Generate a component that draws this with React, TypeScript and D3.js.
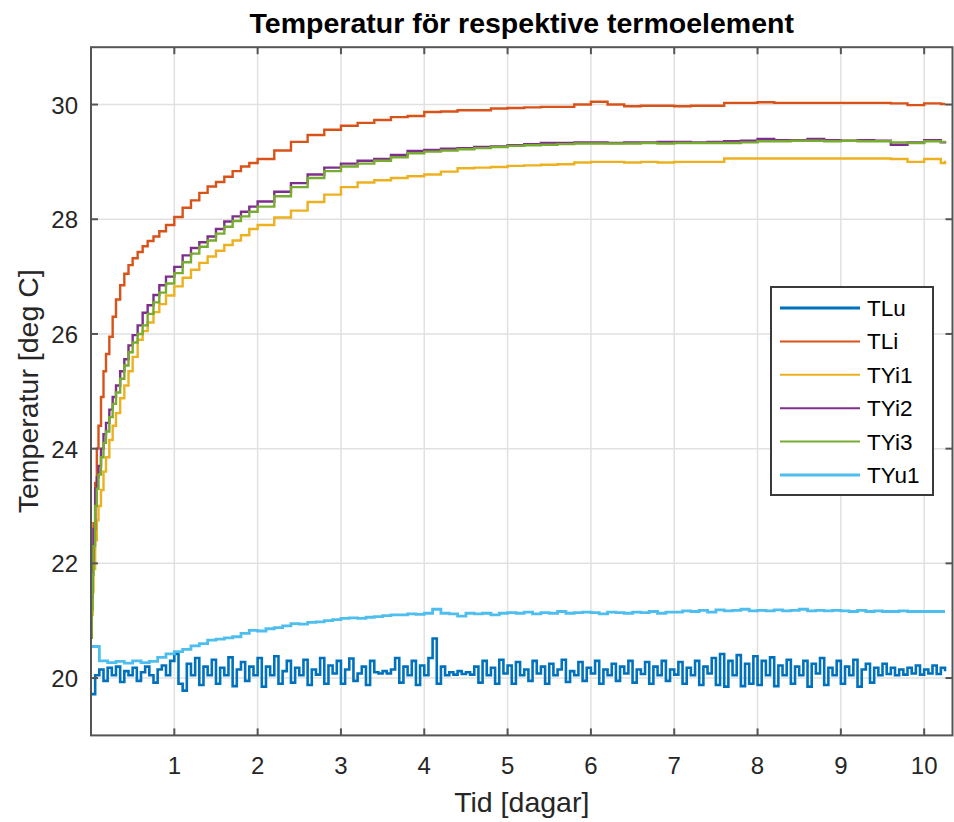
import { useRef, useEffect } from "react";
import * as d3 from "d3";

const seriesNames = ["TLu", "TLi", "TYi1", "TYi2", "TYi3", "TYu1"];
const seriesColors = ["#0072BD", "#D95319", "#EDB120", "#7E2F8E", "#77AC30", "#4DBEEE"];

// time grid (days) for the four rising sensors
const riseDays = [
  0, 0.01, 0.02, 0.03, 0.05, 0.07, 0.09, 0.12, 0.15, 0.18,
  0.22, 0.26, 0.3, 0.35, 0.4, 0.45, 0.5, 0.56, 0.62, 0.68,
  0.75, 0.82, 0.9, 1.0, 1.1, 1.2, 1.3, 1.4, 1.5, 1.6,
  1.7, 1.8, 1.9, 2.0, 2.2, 2.4, 2.6, 2.8, 3.0, 3.2,
  3.4, 3.6, 3.8, 4.0, 4.2, 4.4, 4.6, 4.8, 5.0, 5.2,
  5.4, 5.6, 5.8, 6.0, 6.2, 6.4, 6.6, 6.8, 7.0, 7.2,
  7.4, 7.6, 7.8, 8.0, 8.2, 8.4, 8.6, 8.8, 9.0, 9.2,
  9.4, 9.6, 9.8, 10.0, 10.2, 10.25,
];

const tliValues = [
  20.7, 21.7, 22.3, 22.7, 23.4, 24.0, 24.4, 24.9, 25.35, 25.65,
  25.95, 26.3, 26.6, 26.85, 27.05, 27.2, 27.32, 27.43, 27.53, 27.62,
  27.7, 27.79, 27.9, 28.04, 28.2, 28.33, 28.46, 28.57, 28.65, 28.74,
  28.84, 28.92, 28.98, 29.05, 29.2, 29.35, 29.47, 29.56, 29.63, 29.68,
  29.73, 29.78, 29.8, 29.87, 29.88, 29.9, 29.9, 29.93, 29.94, 29.95,
  29.96, 29.96, 30.0, 30.05, 30.0, 29.97, 29.98, 29.98, 29.97, 29.98,
  29.98, 30.03, 30.03, 30.04, 30.03, 30.03, 30.03, 30.03, 30.03, 30.03,
  30.03, 30.02, 29.99, 30.02, 30.01, 30.02,
];

const tyi1Values = [
  20.7, 21.1, 21.5, 21.9, 22.4, 22.75, 23.0, 23.28, 23.6, 23.85,
  24.15, 24.4, 24.62, 24.88, 25.1, 25.35, 25.6, 25.9, 26.05, 26.2,
  26.38, 26.52, 26.67, 26.83, 26.98, 27.12, 27.24, 27.35, 27.45, 27.55,
  27.63, 27.72, 27.83, 27.9, 28.03, 28.15, 28.3, 28.43, 28.56, 28.64,
  28.68, 28.72, 28.75, 28.78, 28.83, 28.89, 28.9, 28.91, 28.93, 28.94,
  28.95, 28.96, 28.99, 29.0, 29.0, 28.99, 29.0, 28.99, 29.0, 29.0,
  29.0, 29.06, 29.06, 29.06, 29.06, 29.06, 29.06, 29.06, 29.06, 29.06,
  29.06, 29.05, 29.0, 29.05, 28.98, 29.02,
];

const tyi2Values = [
  20.7, 21.4, 22.0, 22.6, 23.3, 23.5, 23.7, 24.0, 24.25, 24.45,
  24.68, 24.9, 25.1, 25.35, 25.56, 25.8, 25.98, 26.15, 26.37, 26.5,
  26.68, 26.85, 27.0, 27.17, 27.37, 27.5, 27.6, 27.7, 27.83, 27.96,
  28.05, 28.13, 28.22, 28.31, 28.48, 28.63, 28.78, 28.9, 28.97, 29.02,
  29.05, 29.12, 29.19, 29.21, 29.23, 29.24, 29.26, 29.27, 29.29, 29.31,
  29.33, 29.33, 29.34, 29.34, 29.33, 29.34, 29.34, 29.35, 29.35, 29.34,
  29.35, 29.36, 29.37, 29.4, 29.38, 29.38, 29.4, 29.38, 29.37, 29.38,
  29.37, 29.3, 29.34, 29.38, 29.34, 29.36,
];

const tyi3Values = [
  20.7, 21.2, 21.8, 22.3, 23.0, 23.3, 23.55, 23.85, 24.1, 24.3,
  24.55, 24.78, 24.98, 25.22, 25.45, 25.68, 25.85, 26.0, 26.15, 26.35,
  26.55, 26.72, 26.88, 27.06, 27.25, 27.4, 27.52, 27.63, 27.75, 27.87,
  27.97, 28.05, 28.13, 28.22, 28.4, 28.56, 28.72, 28.84, 28.92, 28.97,
  29.02, 29.08, 29.15, 29.18, 29.2, 29.22, 29.24, 29.26, 29.28, 29.29,
  29.3, 29.31, 29.32, 29.32, 29.32, 29.32, 29.33, 29.32, 29.33, 29.33,
  29.33, 29.33, 29.34, 29.36, 29.36, 29.37, 29.37, 29.36, 29.37, 29.36,
  29.36, 29.34, 29.33, 29.36, 29.35, 29.36,
];

// TLu is noisy, read at a finer grid
const tluDays = [
  0, 0.05, 0.1, 0.15, 0.2, 0.25, 0.3, 0.35, 0.4, 0.45,
  0.5, 0.55, 0.6, 0.65, 0.7, 0.75, 0.8, 0.85, 0.9, 0.95,
  1.0, 1.05, 1.1, 1.15, 1.2, 1.25, 1.3, 1.35, 1.4, 1.45,
  1.5, 1.55, 1.6, 1.65, 1.7, 1.75, 1.8, 1.85, 1.9, 1.95,
  2.0, 2.05, 2.1, 2.15, 2.2, 2.25, 2.3, 2.35, 2.4, 2.45,
  2.5, 2.55, 2.6, 2.65, 2.7, 2.75, 2.8, 2.85, 2.9, 2.95,
  3.0, 3.05, 3.1, 3.15, 3.2, 3.25, 3.3, 3.35, 3.4, 3.45,
  3.5, 3.55, 3.6, 3.65, 3.7, 3.75, 3.8, 3.85, 3.9, 3.95,
  4.0, 4.05, 4.1, 4.15, 4.2, 4.25, 4.3, 4.35, 4.4, 4.45,
  4.5, 4.55, 4.6, 4.65, 4.7, 4.75, 4.8, 4.85, 4.9, 4.95,
  5.0, 5.05, 5.1, 5.15, 5.2, 5.25, 5.3, 5.35, 5.4, 5.45,
  5.5, 5.55, 5.6, 5.65, 5.7, 5.75, 5.8, 5.85, 5.9, 5.95,
  6.0, 6.05, 6.1, 6.15, 6.2, 6.25, 6.3, 6.35, 6.4, 6.45,
  6.5, 6.55, 6.6, 6.65, 6.7, 6.75, 6.8, 6.85, 6.9, 6.95,
  7.0, 7.05, 7.1, 7.15, 7.2, 7.25, 7.3, 7.35, 7.4, 7.45,
  7.5, 7.55, 7.6, 7.65, 7.7, 7.75, 7.8, 7.85, 7.9, 7.95,
  8.0, 8.05, 8.1, 8.15, 8.2, 8.25, 8.3, 8.35, 8.4, 8.45,
  8.5, 8.55, 8.6, 8.65, 8.7, 8.75, 8.8, 8.85, 8.9, 8.95,
  9.0, 9.05, 9.1, 9.15, 9.2, 9.25, 9.3, 9.35, 9.4, 9.45,
  9.5, 9.55, 9.6, 9.65, 9.7, 9.75, 9.8, 9.85, 9.9, 9.95,
  10.0, 10.05, 10.1, 10.15, 10.2, 10.25,
];

const tluValues = [
  19.72, 20.05, 20.15, 19.95, 20.18, 20.05, 20.2, 19.93, 20.12, 20.05,
  20.18, 19.95, 20.1, 20.2, 20.05, 19.92, 20.15, 20.22, 20.05, 20.3,
  20.42, 19.9, 19.78, 20.25, 20.05, 20.35, 19.88, 20.2, 20.05, 20.32,
  19.9, 20.18, 20.05, 20.36, 19.86, 20.15, 20.28, 19.95, 20.2, 20.05,
  20.35, 19.85, 20.2, 20.05, 20.38, 19.9, 20.12, 20.3, 19.92, 20.18,
  20.05, 20.32, 19.88, 20.15, 20.06, 20.35, 19.9, 20.22, 20.08, 20.3,
  19.9, 20.15, 20.34, 19.95, 20.08, 20.2, 19.88, 20.3, 20.1, 20.08,
  20.12, 20.08, 20.15, 20.35, 19.92, 20.2, 20.05, 20.3, 19.88, 20.22,
  20.05, 20.35, 20.69, 19.9, 20.2, 20.05, 20.1, 20.06, 20.12, 20.07,
  20.1, 20.06, 20.2, 19.92, 20.3, 20.05, 20.18, 19.9, 20.32, 20.08,
  20.22, 19.9, 20.28, 20.05, 20.15, 19.95, 20.3, 20.08, 20.2, 19.9,
  20.25, 20.05, 20.15, 20.32, 19.93, 20.12, 20.05, 20.28, 19.95, 20.18,
  20.08, 20.3, 19.9, 20.15, 20.05, 20.25, 19.95, 20.2, 20.08, 20.3,
  19.92, 20.15, 20.07, 20.28, 19.9, 20.2, 20.05, 20.3, 19.95, 20.15,
  20.06, 20.28, 19.9, 20.18, 20.05, 20.3, 19.88, 20.2, 20.08, 20.35,
  19.88, 20.42, 19.85, 20.3, 20.05, 20.4, 19.86, 20.25, 19.9, 20.38,
  19.88, 20.3, 20.05, 20.36, 19.86, 20.22, 20.05, 20.32, 19.9, 20.2,
  20.05, 20.3, 19.85, 20.25, 20.08, 20.35, 19.88, 20.18, 20.05, 20.3,
  19.9, 20.2, 20.05, 20.32, 19.85, 20.15, 20.25, 19.92, 20.18, 20.05,
  20.25, 20.07, 20.18, 20.05, 20.15, 20.06, 20.18, 20.08, 20.22, 20.06,
  20.15, 20.08, 20.22, 20.07, 20.18, 20.12,
];

const tyuDays = [
  0, 0.1, 0.2, 0.3, 0.4, 0.5, 0.6, 0.7, 0.8, 0.9,
  1.0, 1.1, 1.2, 1.3, 1.4, 1.5, 1.6, 1.7, 1.8, 1.9,
  2.0, 2.1, 2.2, 2.3, 2.4, 2.5, 2.6, 2.7, 2.8, 2.9,
  3.0, 3.1, 3.2, 3.3, 3.4, 3.5, 3.6, 3.7, 3.8, 3.9,
  4.0, 4.1, 4.2, 4.3, 4.4, 4.5, 4.6, 4.7, 4.8, 4.9,
  5.0, 5.1, 5.2, 5.3, 5.4, 5.5, 5.6, 5.7, 5.8, 5.9,
  6.0, 6.1, 6.2, 6.3, 6.4, 6.5, 6.6, 6.7, 6.8, 6.9,
  7.0, 7.1, 7.2, 7.3, 7.4, 7.5, 7.6, 7.7, 7.8, 7.9,
  8.0, 8.1, 8.2, 8.3, 8.4, 8.5, 8.6, 8.7, 8.8, 8.9,
  9.0, 9.1, 9.2, 9.3, 9.4, 9.5, 9.6, 9.7, 9.8, 9.9,
  10.0, 10.1, 10.2, 10.25,
];

const tyu1Values = [
  20.55, 20.3, 20.27, 20.29, 20.26, 20.3, 20.27, 20.29, 20.36, 20.42,
  20.46, 20.5, 20.56, 20.6, 20.66, 20.68, 20.7, 20.72, 20.78, 20.83,
  20.82, 20.86, 20.88, 20.91, 20.95, 20.94, 20.97, 20.98, 21.0, 21.02,
  21.04, 21.05, 21.04, 21.06, 21.07, 21.09, 21.1, 21.1, 21.12, 21.11,
  21.13, 21.2, 21.13, 21.12, 21.08, 21.13, 21.12, 21.13, 21.1, 21.13,
  21.14, 21.13, 21.15, 21.12, 21.14, 21.13, 21.16, 21.13, 21.14, 21.15,
  21.14, 21.12, 21.15, 21.14, 21.13, 21.15, 21.14, 21.16, 21.13, 21.15,
  21.15, 21.17, 21.16, 21.18, 21.15, 21.19, 21.17, 21.18, 21.2, 21.17,
  21.18, 21.17, 21.19, 21.17, 21.18, 21.2, 21.17, 21.18, 21.17, 21.18,
  21.17, 21.16, 21.18, 21.16, 21.17, 21.16, 21.16, 21.17, 21.16, 21.16,
  21.16, 21.16, 21.16, 21.16,
];

const xTicks = [1, 2, 3, 4, 5, 6, 7, 8, 9, 10];
const yTicks = [20, 22, 24, 26, 28, 30];

export default function App() {
  const ref = useRef<SVGSVGElement>(null);

  useEffect(() => {
    const left = 91;
    const right = 952.5;
    const top = 47.2;
    const bottom = 735.4;
    const font = "'Liberation Sans', Arial, Helvetica, sans-serif";
    const axisColor = "#262626";
    const boxColor = "#555";

    const svg = d3.select(ref.current);
    svg.selectAll("*").remove();

    const x = d3.scaleLinear().domain([0, 10.34]).range([left, right]);
    const y = d3.scaleLinear().domain([19, 31]).range([bottom, top]);

    svg.append("rect").attr("width", 954).attr("height", 822).attr("fill", "#fff");

    // grid
    svg
      .selectAll(".gx")
      .data(xTicks)
      .enter()
      .append("line")
      .attr("x1", (d) => x(d))
      .attr("x2", (d) => x(d))
      .attr("y1", top)
      .attr("y2", bottom)
      .attr("stroke", "#e1e1e1")
      .attr("stroke-width", 1.5);
    svg
      .selectAll(".gy")
      .data(yTicks)
      .enter()
      .append("line")
      .attr("x1", left)
      .attr("x2", right)
      .attr("y1", (d) => y(d))
      .attr("y2", (d) => y(d))
      .attr("stroke", "#e1e1e1")
      .attr("stroke-width", 1.5);

    svg
      .append("clipPath")
      .attr("id", "plotclip")
      .append("rect")
      .attr("x", left)
      .attr("y", top)
      .attr("width", right - left)
      .attr("height", bottom - top);

    const series = [
      { days: tluDays, values: tluValues, width: 2.6 },
      { days: riseDays, values: tliValues, width: 2.4 },
      { days: riseDays, values: tyi1Values, width: 2.4 },
      { days: riseDays, values: tyi2Values, width: 2.4 },
      { days: riseDays, values: tyi3Values, width: 2.4 },
      { days: tyuDays, values: tyu1Values, width: 2.8 },
    ];

    // sensor readings are quantised, so draw them as steps
    const line = d3
      .line<[number, number]>()
      .x((d) => x(d[0]))
      .y((d) => y(d[1]))
      .curve(d3.curveStepAfter);

    const plot = svg.append("g").attr("clip-path", "url(#plotclip)");
    series.forEach((s, i) => {
      const pts = s.days.map((t, j) => [t, s.values[j]] as [number, number]);
      plot
        .append("path")
        .attr("d", line(pts))
        .attr("fill", "none")
        .attr("stroke", seriesColors[i])
        .attr("stroke-width", s.width);
    });

    // box
    svg
      .append("rect")
      .attr("x", left)
      .attr("y", top)
      .attr("width", right - left)
      .attr("height", bottom - top)
      .attr("fill", "none")
      .attr("stroke", boxColor)
      .attr("stroke-width", 2);

    const tl = 7;
    xTicks.forEach((d) => {
      svg.append("line").attr("x1", x(d)).attr("x2", x(d)).attr("y1", bottom).attr("y2", bottom - tl).attr("stroke", boxColor).attr("stroke-width", 2);
      svg.append("line").attr("x1", x(d)).attr("x2", x(d)).attr("y1", top).attr("y2", top + tl).attr("stroke", boxColor).attr("stroke-width", 2);
    });
    yTicks.forEach((d) => {
      svg.append("line").attr("x1", left).attr("x2", left + tl).attr("y1", y(d)).attr("y2", y(d)).attr("stroke", boxColor).attr("stroke-width", 2);
      svg.append("line").attr("x1", right).attr("x2", right - tl).attr("y1", y(d)).attr("y2", y(d)).attr("stroke", boxColor).attr("stroke-width", 2);
    });

    // tick labels
    svg
      .selectAll(".xl")
      .data(xTicks)
      .enter()
      .append("text")
      .attr("x", (d) => x(d))
      .attr("y", 773.5)
      .attr("text-anchor", "middle")
      .attr("font-family", font)
      .attr("font-size", 24)
      .attr("fill", axisColor)
      .text((d) => d);
    svg
      .selectAll(".yl")
      .data(yTicks)
      .enter()
      .append("text")
      .attr("x", 78)
      .attr("y", (d) => y(d) + 9)
      .attr("text-anchor", "end")
      .attr("font-family", font)
      .attr("font-size", 24)
      .attr("fill", axisColor)
      .text((d) => d);

    // titles
    svg
      .append("text")
      .attr("x", (left + right) / 2)
      .attr("y", 32.5)
      .attr("text-anchor", "middle")
      .attr("font-family", font)
      .attr("font-size", 28.5)
      .attr("font-weight", "bold")
      .attr("fill", "#000")
      .text("Temperatur för respektive termoelement");
    svg
      .append("text")
      .attr("x", (left + right) / 2)
      .attr("y", 812)
      .attr("text-anchor", "middle")
      .attr("font-family", font)
      .attr("font-size", 28.5)
      .attr("fill", axisColor)
      .text("Tid [dagar]");
    svg
      .append("text")
      .attr("transform", `translate(38,${(top + bottom) / 2}) rotate(-90)`)
      .attr("text-anchor", "middle")
      .attr("font-family", font)
      .attr("font-size", 28.5)
      .attr("fill", axisColor)
      .text("Temperatur [deg C]");

    // legend
    const lg = svg.append("g");
    lg.append("rect")
      .attr("x", 771)
      .attr("y", 287)
      .attr("width", 162)
      .attr("height", 208)
      .attr("fill", "#fff")
      .attr("stroke", "#3a3a3a")
      .attr("stroke-width", 2);
    seriesNames.forEach((name, i) => {
      const ry = 308 + i * 33.4;
      lg.append("line")
        .attr("x1", 780)
        .attr("x2", 860)
        .attr("y1", ry)
        .attr("y2", ry)
        .attr("stroke", seriesColors[i])
        .attr("stroke-width", i === 0 || i === 5 ? 3 : 2);
      lg.append("text")
        .attr("x", 867)
        .attr("y", ry + 8)
        .attr("font-family", font)
        .attr("font-size", 22.5)
        .attr("fill", "#000")
        .text(name);
    });
  }, []);

  return (
    <svg
      ref={ref}
      width={954}
      height={822}
      style={{ position: "absolute", left: 0, top: 0, display: "block" }}
    />
  );
}
